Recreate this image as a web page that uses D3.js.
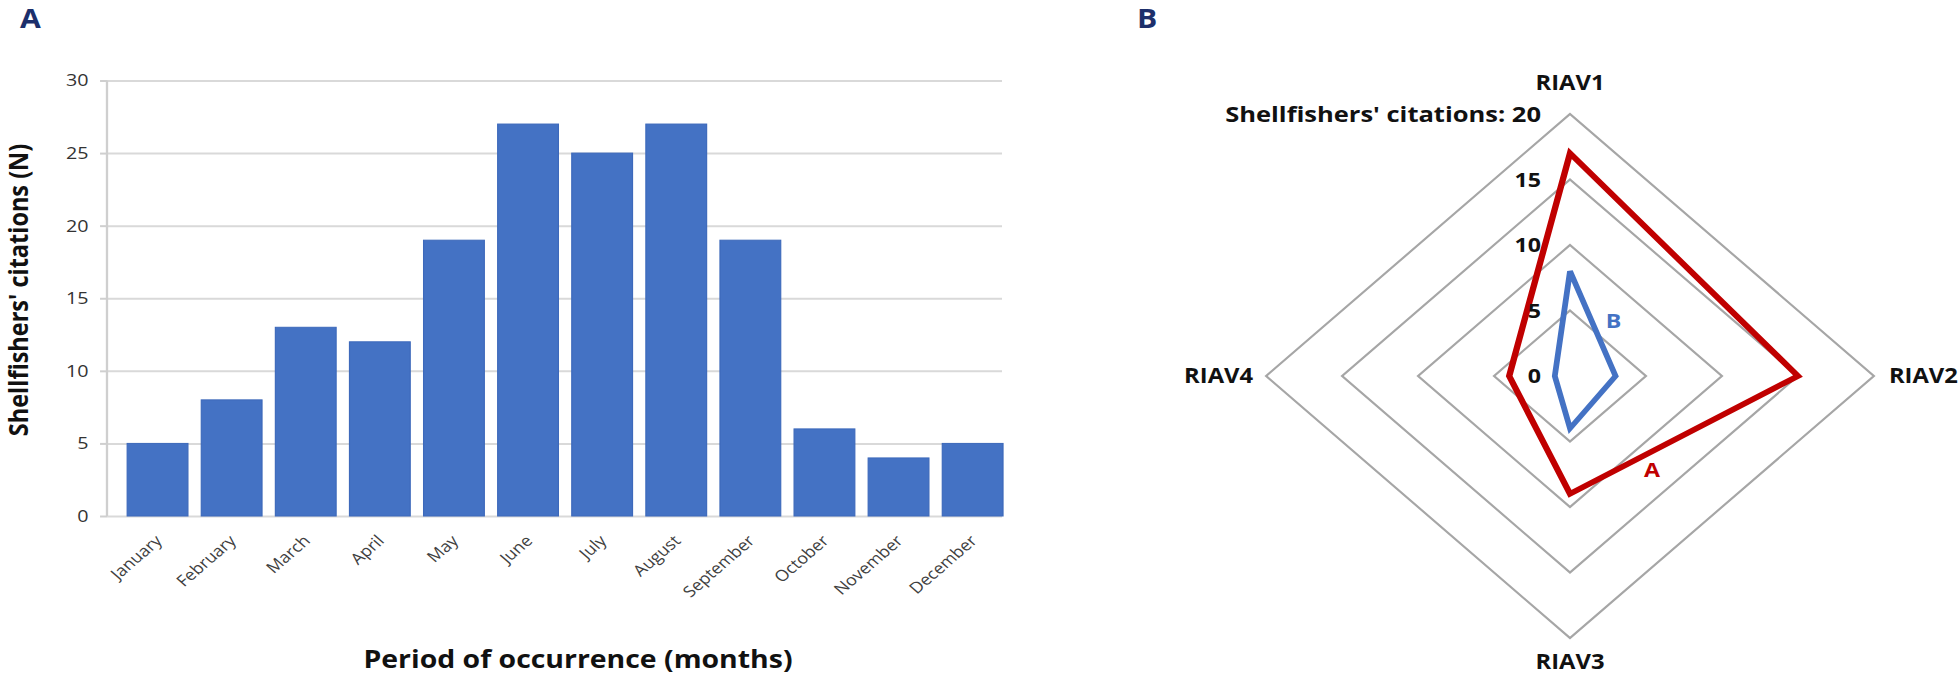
<!DOCTYPE html>
<html>
<head>
<meta charset="utf-8">
<script src="https://cdn.jsdelivr.net/npm/d3@7"></script>
<style>
  html, body { margin: 0; padding: 0; background: #fff; }
  svg { display: block; }
  text { font-family: "Open Sans", "DejaVu Sans", sans-serif; }
</style>
</head>
<body>
<svg id="chart" width="1958" height="676"></svg>
<script>
// ---------- data ----------
const months = ["January","February","March","April","May","June","July","August","September","October","November","December"];
const citations = [5, 8, 13, 12, 19, 27, 25, 27, 19, 6, 4, 5];
const yTicks = [0, 5, 10, 15, 20, 25, 30];

const radarAxes = ["RIAV1", "RIAV2", "RIAV3", "RIAV4"];
const seriesA = [17, 15, 9, 4];
const seriesB = [8, 3, 4, 1];
const ringValues = [5, 10, 15, 20];
const ringLabels = [0, 5, 10, 15, 20];

// ---------- layout ----------
const W = 1958, H = 676;
const S = 1.16; // horizontal stretch of the figure
const ux = x => x / S;

const svg = d3.select("#chart");
const root = svg.append("g").attr("transform", `scale(${S},1)`);

// ================= Panel A : bar chart =================
const gA = root.append("g");
const y = d3.scaleLinear().domain([0, 30]).range([516, 80.5]);
const axisX = ux(107), gridEnd = ux(1002);
const x = d3.scaleBand().domain(months)
  .range([ux(120.5), ux(1009.7)])
  .paddingInner(0.18).paddingOuter(0.09);

// gridlines
gA.append("g")
  .attr("transform", `translate(${axisX},0)`)
  .call(d3.axisLeft(y).tickValues(yTicks).tickSize(-(gridEnd - axisX)).tickFormat(""))
  .call(g => g.select(".domain").remove())
  .call(g => g.selectAll("line").attr("stroke", "#d9d9d9").attr("stroke-width", 2));

// axis with ticks & labels
const yAx = gA.append("g")
  .attr("transform", `translate(${axisX},0)`)
  .call(d3.axisLeft(y).tickValues(yTicks).tickSize(6).tickPadding(10));
yAx.select(".domain").attr("stroke", "#cfcfcf").attr("stroke-width", 2).attr("d", `M0,${y(30)}V${y(0)}`);
yAx.selectAll(".tick line").attr("stroke", "#cfcfcf").attr("stroke-width", 2);
yAx.selectAll(".tick text").attr("fill", "#333").attr("font-size", 17).attr("font-family", "Open Sans");

// bars
gA.append("g").selectAll("rect").data(citations).join("rect")
  .attr("x", (d, i) => x(months[i]))
  .attr("width", x.bandwidth())
  .attr("y", d => y(d))
  .attr("height", d => y(0) - y(d))
  .attr("fill", "#4472C4")
  .attr("stroke", "#3d69bb").attr("stroke-width", 1);

// month labels
gA.append("g").selectAll("text").data(months).join("text")
  .attr("transform", d => `translate(${x(d) + x.bandwidth() / 2 + ux(1)},538) rotate(-45)`)
  .attr("text-anchor", "end")
  .attr("dy", "0.35em")
  .attr("font-size", 15.5)
  .attr("fill", "#404040")
  .text(d => d);

// axis titles
gA.append("text")
  .attr("transform", `translate(${ux(28)},290) rotate(-90)`)
  .attr("text-anchor", "middle")
  .attr("font-size", 23.5).attr("font-weight", "bold").attr("fill", "#111")
  .text("Shellfishers' citations (N)");

gA.append("text")
  .attr("x", ux(578)).attr("y", 668)
  .attr("text-anchor", "middle")
  .attr("font-size", 24.5).attr("font-weight", "bold").attr("fill", "#111")
  .text("Period of occurrence (months)");

// panel letters
root.append("text").attr("x", ux(20)).attr("y", 28)
  .attr("font-size", 26).attr("font-weight", "bold").attr("fill", "#1c2f6b").text("A");
root.append("text").attr("x", ux(1137)).attr("y", 28)
  .attr("font-size", 26).attr("font-weight", "bold").attr("fill", "#1c2f6b").text("B");

// ================= Panel B : radar chart =================
const cx = ux(1570), cy = 376;
const r = d3.scaleLinear().domain([0, 20]).range([0, 262]);
const angle = i => i * Math.PI / 2;
const radial = d3.lineRadial()
  .angle((d, i) => angle(i))
  .radius(d => r(d))
  .curve(d3.curveLinearClosed);
const pt = (v, i) => [r(v) * Math.sin(angle(i)), -r(v) * Math.cos(angle(i))];

const gB = root.append("g").attr("transform", `translate(${cx},${cy})`);

// rings
gB.append("g").selectAll("path").data(ringValues).join("path")
  .attr("d", v => radial(radarAxes.map(() => v)))
  .attr("fill", "none").attr("stroke", "#a6a6a6").attr("stroke-width", 2);

// series
gB.append("path").attr("d", radial(seriesA))
  .attr("fill", "none").attr("stroke", "#C00000").attr("stroke-width", 5.5).attr("stroke-linejoin", "miter");
gB.append("path").attr("d", radial(seriesB))
  .attr("fill", "none").attr("stroke", "#4472C4").attr("stroke-width", 5).attr("stroke-linejoin", "miter");

// ring labels
gB.append("g").selectAll("text").data(ringLabels).join("text")
  .attr("x", ux(1541) - cx)
  .attr("y", v => -r(v))
  .attr("dy", "0.36em")
  .attr("text-anchor", "end")
  .attr("font-size", v => v === 20 ? 22 : 20).attr("font-weight", "bold").attr("fill", "#111")
  .text(v => v === 20 ? "Shellfishers' citations: 20" : v);

// axis labels
const labelPos = [
  {dx: 0, dy: -r(20) - 24, anchor: "middle", base: "auto"},
  {dx: r(20) + ux(15) , dy: 0, anchor: "start", base: "central"},
  {dx: 0, dy: r(20) + 31, anchor: "middle", base: "auto"},
  {dx: -r(20) - ux(13), dy: 0, anchor: "end", base: "central"}
];
gB.append("g").selectAll("text").data(radarAxes).join("text")
  .attr("x", (d, i) => labelPos[i].dx)
  .attr("y", (d, i) => labelPos[i].dy)
  .attr("dy", (d, i) => labelPos[i].base === "central" ? "0.36em" : 0)
  .attr("text-anchor", (d, i) => labelPos[i].anchor)
  .attr("font-size", 20.5).attr("font-weight", "bold").attr("fill", "#111")
  .text(d => d);

// series labels "A" and "B"
const a2 = pt(seriesA[1], 1), a3 = pt(seriesA[2], 2);
const tA = 0.36;
gB.append("text")
  .attr("x", a3[0] + tA * (a2[0] - a3[0]))
  .attr("y", a3[1] + tA * (a2[1] - a3[1]) + 18)
  .attr("dy", "0.36em").attr("text-anchor", "middle")
  .attr("font-size", 20).attr("font-weight", "bold").attr("fill", "#C00000").text("A");
const b1 = pt(seriesB[0], 0), b2 = pt(seriesB[1], 1);
const tB = 0.47;
gB.append("text")
  .attr("x", b1[0] + tB * (b2[0] - b1[0]) + ux(22))
  .attr("y", b1[1] + tB * (b2[1] - b1[1]))
  .attr("dy", "0.36em").attr("text-anchor", "middle")
  .attr("font-size", 20).attr("font-weight", "bold").attr("fill", "#4472C4").text("B");
</script>
</body>
</html>
